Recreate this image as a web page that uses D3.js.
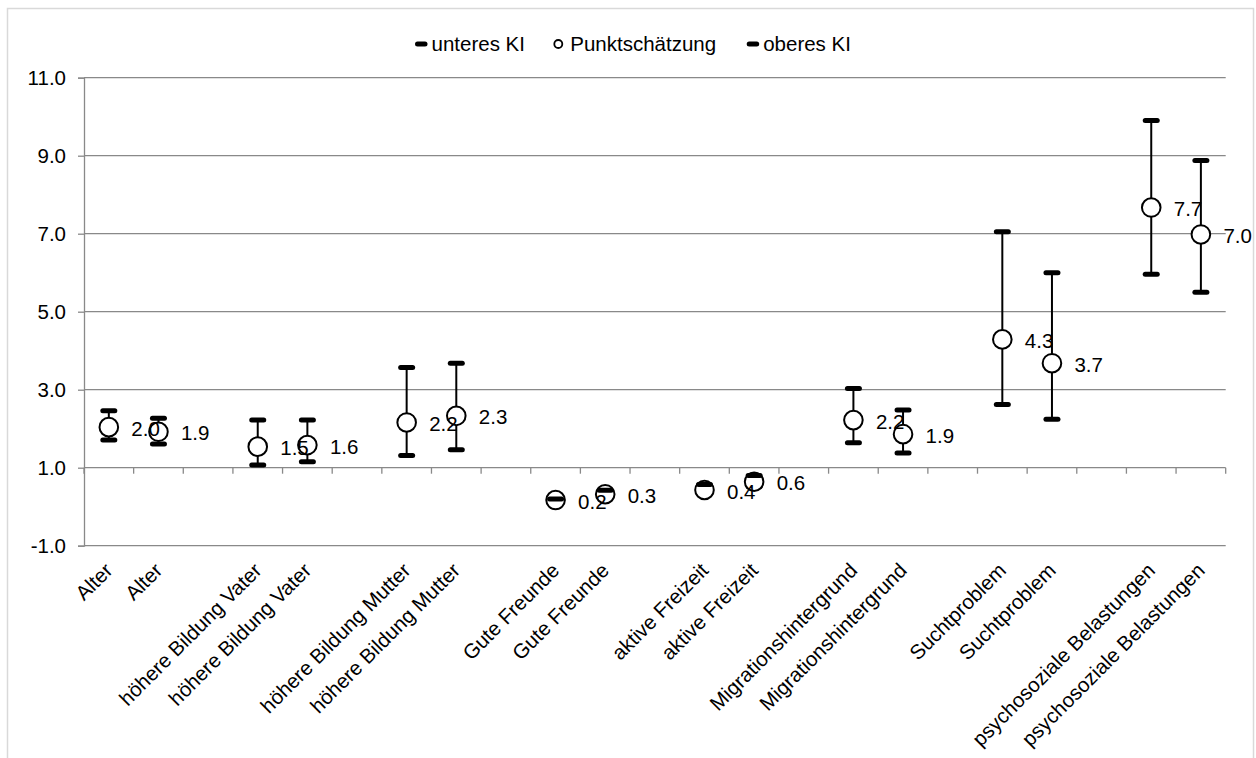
<!DOCTYPE html>
<html>
<head>
<meta charset="utf-8">
<script src="https://cdn.jsdelivr.net/npm/d3@7"></script>
<style>
  body { margin: 0; background: #fff; }
  svg text { font-family: "Liberation Sans", Arial, sans-serif; fill: #000; }
</style>
</head>
<body>
<svg id="chart"></svg>
<script>
// categories (empty strings are the gaps between pairs)
const categories = ["Alter", "Alter", "",
  "höhere Bildung Vater", "höhere Bildung Vater", "",
  "höhere Bildung Mutter", "höhere Bildung Mutter", "",
  "Gute Freunde", "Gute Freunde", "",
  "aktive Freizeit", "aktive Freizeit", "",
  "Migrationshintergrund", "Migrationshintergrund", "",
  "Suchtproblem", "Suchtproblem", "",
  "psychosoziale Belastungen", "psychosoziale Belastungen"];

const lowerCI = [1.71, 1.61, null, 1.07, 1.15, null, 1.31, 1.46, null, 0.14, 0.25, null, 0.34, 0.52, null, 1.64, 1.38, null, 2.62, 2.24, null, 5.96, 5.50];
const pointEst = [2.04, 1.92, null, 1.54, 1.58, null, 2.16, 2.33, null, 0.17, 0.32, null, 0.43, 0.64, null, 2.22, 1.86, null, 4.29, 3.68, null, 7.67, 6.98];
const upperCI = [2.46, 2.27, null, 2.22, 2.22, null, 3.57, 3.68, null, 0.20, 0.42, null, 0.57, 0.80, null, 3.03, 2.48, null, 7.05, 6.00, null, 9.90, 8.88];

const yTicks = [-1, 1, 3, 5, 7, 9, 11];
const legendNames = ["unteres KI", "Punktschätzung", "oberes KI"];

const width = 1256, height = 758;
const plot = { left: 84, right: 1225.7, top: 77.7, bottom: 545.7 };
const axisGray = "#898989";

const svg = d3.select("#chart").attr("width", width).attr("height", height);

// outer chart border
svg.append("rect")
  .attr("x", 7.5).attr("y", 8.5)
  .attr("width", 1246).attr("height", 770)
  .attr("fill", "#fff").attr("stroke", "#d9d9d9").attr("stroke-width", 1.5);

const idx = d3.range(categories.length);
const x = d3.scaleBand().domain(idx).range([plot.left, plot.right]).padding(0);
const y = d3.scaleLinear().domain([-1, 11]).range([plot.bottom, plot.top]);
const cx = i => x(i) + x.bandwidth() / 2;

// gridlines
svg.append("g").selectAll("line")
  .data(yTicks)
  .join("line")
  .attr("x1", plot.left).attr("x2", plot.right)
  .attr("y1", d => y(d)).attr("y2", d => y(d))
  .attr("stroke", axisGray).attr("stroke-width", 1.3);

// y axis
const yAxis = svg.append("g")
  .attr("transform", `translate(${plot.left},0)`)
  .call(d3.axisLeft(y).tickValues(yTicks).tickSize(6).tickPadding(12)
    .tickFormat(d => d.toFixed(1)));
yAxis.select(".domain").attr("stroke", axisGray).attr("stroke-width", 1.3);
yAxis.selectAll(".tick line").attr("stroke", axisGray).attr("stroke-width", 1.3);
yAxis.selectAll(".tick text").style("font-size", "20.5px").attr("fill", "#000");

// x axis crosses at 1.0, tick marks on category boundaries
const boundaries = d3.range(categories.length + 1).map(i => plot.left + i * x.step());
svg.append("g").selectAll("line")
  .data(boundaries)
  .join("line")
  .attr("x1", d => d).attr("x2", d => d)
  .attr("y1", y(1)).attr("y2", y(1) + 6)
  .attr("stroke", axisGray).attr("stroke-width", 1.3);

// category labels, rotated, placed below the plot
svg.append("g").selectAll("text")
  .data(idx.filter(i => categories[i] !== ""))
  .join("text")
  .attr("transform", i => `translate(${cx(i)},${plot.bottom + 21}) rotate(-45)`)
  .attr("text-anchor", "end")
  .attr("dy", "0.35em")
  .style("font-size", "20.5px")
  .text(i => categories[i]);

const valid = idx.filter(i => pointEst[i] != null);
const marks = svg.append("g");

// high-low line
marks.selectAll(".hl")
  .data(valid)
  .join("line")
  .attr("class", "hl")
  .attr("x1", i => cx(i)).attr("x2", i => cx(i))
  .attr("y1", i => y(lowerCI[i])).attr("y2", i => y(upperCI[i]))
  .attr("stroke", "#000").attr("stroke-width", 2);

function caps(cls, arr) {
  marks.selectAll("." + cls)
    .data(valid)
    .join("line")
    .attr("class", cls)
    .attr("x1", i => cx(i) - 6).attr("x2", i => cx(i) + 6)
    .attr("y1", i => y(arr[i])).attr("y2", i => y(arr[i]))
    .attr("stroke", "#000").attr("stroke-width", 5)
    .attr("stroke-linecap", "round");
}

caps("low", lowerCI);

marks.selectAll(".pt")
  .data(valid)
  .join("circle")
  .attr("class", "pt")
  .attr("cx", i => cx(i)).attr("cy", i => y(pointEst[i]))
  .attr("r", 9.3)
  .attr("fill", "#fff").attr("stroke", "#000").attr("stroke-width", 2);

caps("up", upperCI);

// data labels
marks.selectAll(".lbl")
  .data(valid)
  .join("text")
  .attr("class", "lbl")
  .attr("x", i => cx(i) + 22.5)
  .attr("y", i => y(pointEst[i]))
  .attr("dy", "0.42em")
  .style("font-size", "20.5px")
  .text(i => pointEst[i].toFixed(1));

// legend
const legendX = [415, 558.3, 746.7];
const legendY = 44;
const lg = svg.append("g");
legendNames.forEach((name, k) => {
  let tx;
  if (k === 1) {
    lg.append("circle")
      .attr("cx", legendX[k]).attr("cy", legendY).attr("r", 4)
      .attr("fill", "#fff").attr("stroke", "#000").attr("stroke-width", 1.8);
    tx = legendX[k] + 12;
  } else {
    lg.append("line")
      .attr("x1", legendX[k] + 2.5).attr("x2", legendX[k] + 10)
      .attr("y1", legendY).attr("y2", legendY)
      .attr("stroke", "#000").attr("stroke-width", 5)
      .attr("stroke-linecap", "round");
    tx = legendX[k] + 16.5;
  }
  lg.append("text")
    .attr("x", tx).attr("y", legendY)
    .attr("dy", "0.35em")
    .style("font-size", "20.5px")
    .text(name);
});
</script>
</body>
</html>
